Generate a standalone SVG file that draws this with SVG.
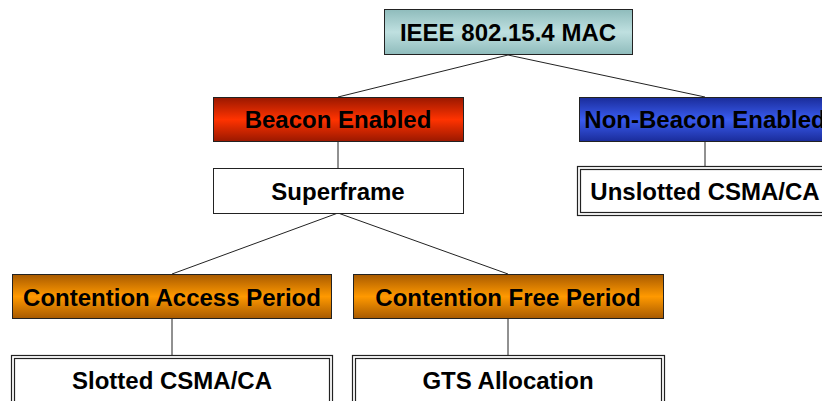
<svg xmlns="http://www.w3.org/2000/svg" width="822" height="401" viewBox="0 0 822 401">
  <defs>
    <linearGradient id="gTeal" x1="0" y1="0" x2="0" y2="1">
      <stop offset="0" stop-color="#8fbcbc"/>
      <stop offset="0.5" stop-color="#bfe0e0"/>
      <stop offset="1" stop-color="#8fbcbc"/>
    </linearGradient>
    <linearGradient id="gRed" x1="0" y1="0" x2="0" y2="1">
      <stop offset="0" stop-color="#9a1800"/>
      <stop offset="0.5" stop-color="#ff3300"/>
      <stop offset="1" stop-color="#9a1800"/>
    </linearGradient>
    <linearGradient id="gBlue" x1="0" y1="0" x2="0" y2="1">
      <stop offset="0" stop-color="#1a2c9a"/>
      <stop offset="0.5" stop-color="#3a5cf0"/>
      <stop offset="1" stop-color="#1a2c9a"/>
    </linearGradient>
    <linearGradient id="gOrange" x1="0" y1="0" x2="0" y2="1">
      <stop offset="0" stop-color="#a85a00"/>
      <stop offset="0.5" stop-color="#ff9900"/>
      <stop offset="1" stop-color="#a85a00"/>
    </linearGradient>
  </defs>
  <style>
    .box { stroke: #222; stroke-width: 1; }
    .plain { fill: #fff; stroke: #222; stroke-width: 1; }
    .dbl { fill: none; stroke: #222; stroke-width: 1.2; }
    .lbl { font-family: "Liberation Sans", Arial, sans-serif; font-weight: bold; font-size: 24px; fill: #000; text-anchor: middle; dominant-baseline: central; }
    .conn line { stroke: #222; stroke-width: 1; }
  </style>
  <rect width="822" height="401" fill="#fff"/>

  <g id="connectors" class="conn">
    <line x1="508" y1="55" x2="338" y2="97"/>
    <line x1="508" y1="55" x2="705" y2="97"/>
    <line x1="338" y1="142" x2="338" y2="168"/>
    <line x1="705" y1="142" x2="705" y2="166"/>
    <line x1="338" y1="213" x2="172" y2="274"/>
    <line x1="338" y1="213" x2="508" y2="274"/>
    <line x1="172" y1="319" x2="172" y2="355"/>
    <line x1="508" y1="319" x2="508" y2="355"/>
  </g>

  <g id="mac">
    <rect class="box" x="384.5" y="9.5" width="248" height="45" fill="url(#gTeal)"/>
    <text class="lbl" x="508" y="32">IEEE 802.15.4 MAC</text>
  </g>

  <g id="beacon">
    <rect class="box" x="213.5" y="97.5" width="250" height="44" fill="url(#gRed)"/>
    <text class="lbl" x="338" y="119.5">Beacon Enabled</text>
  </g>

  <g id="nonbeacon">
    <rect class="box" x="579.5" y="97.5" width="260" height="44" fill="url(#gBlue)"/>
    <text class="lbl" x="705" y="119.5">Non-Beacon Enabled</text>
  </g>

  <g id="superframe">
    <rect class="plain" x="213.5" y="168.5" width="250" height="45"/>
    <text class="lbl" x="338" y="191">Superframe</text>
  </g>

  <g id="unslotted">
    <rect x="577" y="166" width="260" height="50" fill="#fff"/>
    <rect class="dbl" x="577.5" y="166.5" width="260" height="49"/>
    <rect class="dbl" x="580.5" y="169.5" width="254" height="43"/>
    <text class="lbl" x="705" y="191.5">Unslotted CSMA/CA</text>
  </g>

  <g id="cap">
    <rect class="box" x="12.5" y="274.5" width="319" height="44" fill="url(#gOrange)"/>
    <text class="lbl" x="172" y="297">Contention Access Period</text>
  </g>

  <g id="cfp">
    <rect class="box" x="353.5" y="274.5" width="310" height="44" fill="url(#gOrange)"/>
    <text class="lbl" x="508" y="297">Contention Free Period</text>
  </g>

  <g id="slotted">
    <rect x="11" y="355" width="322" height="50" fill="#fff"/>
    <rect class="dbl" x="11.5" y="355.5" width="321" height="50"/>
    <rect class="dbl" x="14.5" y="358.5" width="315" height="50"/>
    <text class="lbl" x="172" y="380.5">Slotted CSMA/CA</text>
  </g>

  <g id="gts">
    <rect x="352" y="355" width="313" height="50" fill="#fff"/>
    <rect class="dbl" x="352.5" y="355.5" width="312" height="50"/>
    <rect class="dbl" x="355.5" y="358.5" width="306" height="50"/>
    <text class="lbl" x="508" y="380.5">GTS Allocation</text>
  </g>
</svg>
